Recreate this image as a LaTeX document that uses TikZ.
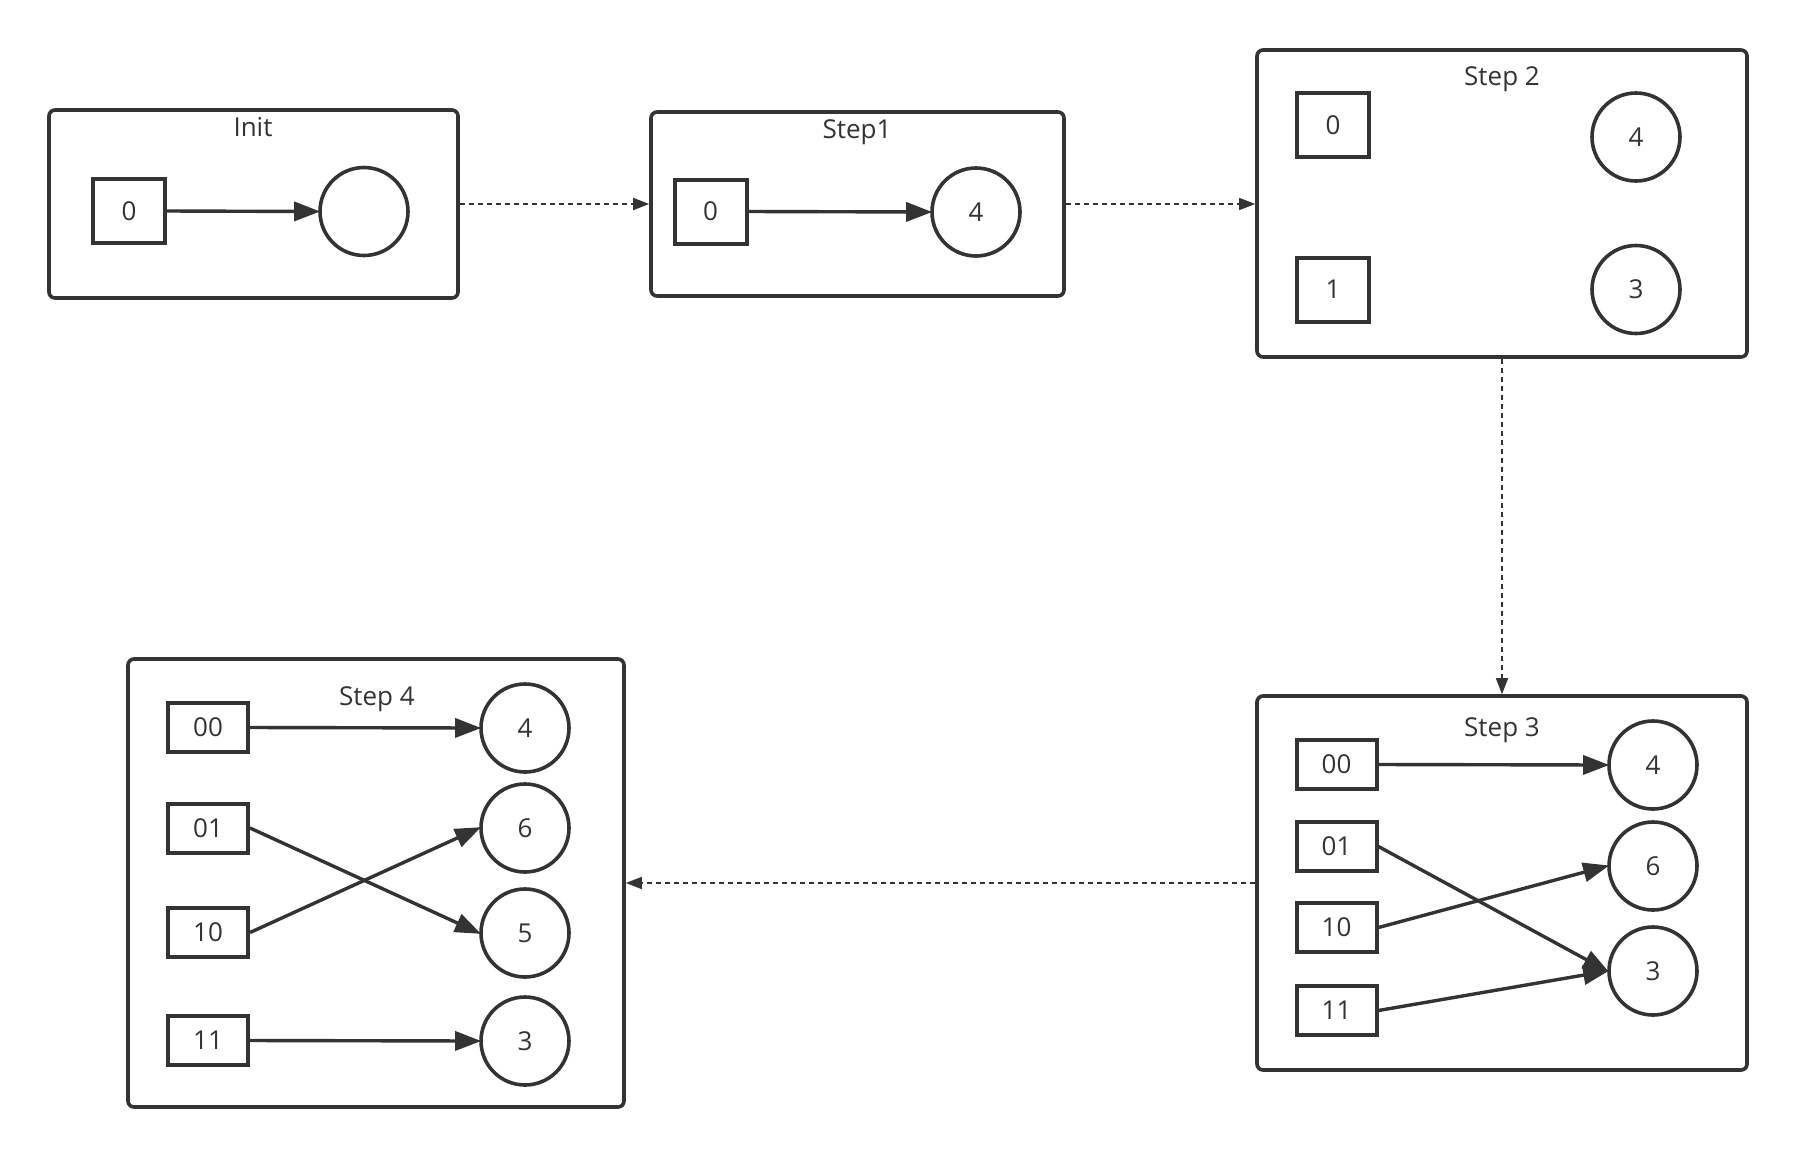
\documentclass[tikz,border=0pt]{standalone}
\usepackage{fontspec}
\setmainfont{Open Sans}
\usetikzlibrary{arrows.meta}
\definecolor{ink}{HTML}{333333}
\begin{document}
\begin{tikzpicture}[x=1pt,y=-1pt,
  every node/.style={font=\fontsize{26}{30}\selectfont, text=ink},
  frame/.style={draw=ink, line width=3.6pt, rounded corners=6pt, rectangle, inner sep=0pt},
  title/.style={anchor=base},
  keybox/.style={draw=ink, line width=4pt, rectangle, inner sep=0pt, minimum width=72pt, minimum height=64pt},
  keyboxw/.style={draw=ink, line width=4pt, rectangle, inner sep=0pt, minimum width=80pt, minimum height=49pt},
  valnode/.style={draw=ink, line width=3.6pt, circle, inner sep=0pt, minimum size=88pt},
  link/.style={draw=ink, line width=3.4pt, shorten >=-2pt, -{Triangle[length=26pt,width=19pt]}},
  flow/.style={draw=ink, line width=1.6pt, dash pattern=on 5pt off 4pt, -{Triangle[length=16pt,width=12pt]}}
]
\useasboundingbox (0,0) rectangle (1797,1157);
\fill[white] (0,0) rectangle (1797,1157);

% frames
\node[frame, minimum width=409pt, minimum height=188pt] (finit) at (253.5,204) {};
\node[frame, minimum width=413pt, minimum height=184pt] (fs1) at (857.5,204) {};
\node[frame, minimum width=490pt, minimum height=307pt] (fs2) at (1502,203.5) {};
\node[frame, minimum width=490pt, minimum height=374pt] (fs3) at (1502,883) {};
\node[frame, minimum width=496pt, minimum height=448pt] (fs4) at (376,883) {};

% titles
\node[title] (tinit) at (253,136) {Init};
\node[title] (ts1) at (857,138) {Step1};
\node[title] (ts2) at (1502,85) {Step 2};
\node[title] (ts3) at (1502,736) {Step 3};
\node[title] (ts4) at (377,705) {Step 4};

% Init
\node[keybox] (ib0) at (129,211) {0};
\node[valnode] (ic) at (364,211.5) {};
\draw[link] (ib0.east) -- (ic.west);

% Step1
\node[keybox] (ab0) at (710.5,211.5) {0};
\node[valnode] (ac4) at (976,212) {4};
\draw[link] (ab0.east) -- (ac4.west);

% Step2
\node[keybox] (bb0) at (1333,125) {0};
\node[keybox] (bb1) at (1333,289.5) {1};
\node[valnode] (bc4) at (1636,137) {4};
\node[valnode] (bc3) at (1636,289.5) {3};

% Step3
\node[keyboxw] (cb00) at (1336.5,764.5) {00};
\node[keyboxw] (cb01) at (1336.5,846.5) {01};
\node[keyboxw] (cb10) at (1336.5,927.5) {10};
\node[keyboxw] (cb11) at (1336.5,1010.5) {11};
\node[valnode] (cc4) at (1653,765) {4};
\node[valnode] (cc6) at (1653,866) {6};
\node[valnode] (cc3) at (1653,971) {3};
\draw[link] (cb00.east) -- (cc4.west);
\draw[link] (cb01.east) -- (cc3.west);
\draw[link] (cb10.east) -- (cc6.west);
\draw[link] (cb11.east) -- (cc3.west);

% Step4
\node[keyboxw] (db00) at (208,727.5) {00};
\node[keyboxw] (db01) at (208,828) {01};
\node[keyboxw] (db10) at (208,932.5) {10};
\node[keyboxw] (db11) at (208,1040.5) {11};
\node[valnode] (dc4) at (525,728) {4};
\node[valnode] (dc6) at (525,828) {6};
\node[valnode] (dc5) at (525,933) {5};
\node[valnode] (dc3) at (525,1041) {3};
\draw[link] (db00.east) -- (dc4.west);
\draw[link] (db01.east) -- (dc5.west);
\draw[link] (db10.east) -- (dc6.west);
\draw[link] (db11.east) -- (dc3.west);

% flow between steps
\draw[flow] (finit.east) -- (fs1.west);
\draw[flow] (fs1.east) -- (fs2.west |- fs1.east);
\draw[flow] (fs2.south) -- (fs3.north);
\draw[flow] (fs3.west) -- (fs4.east);
\end{tikzpicture}
\end{document}
